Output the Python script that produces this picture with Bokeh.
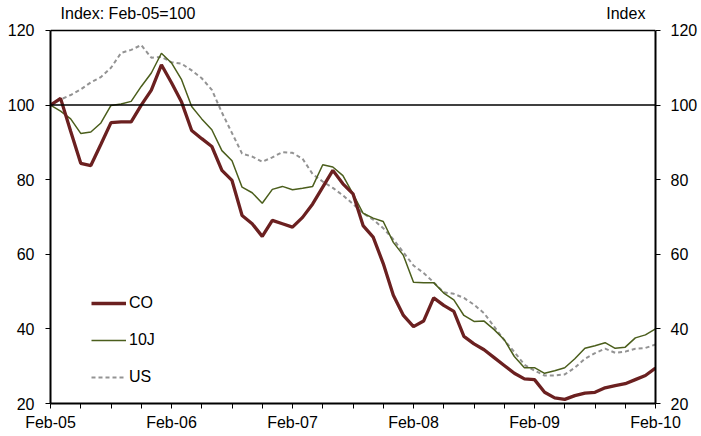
from bokeh.plotting import figure
from bokeh.models import Span, Label, FixedTicker, LinearAxis, Range1d, Legend, LegendItem
from bokeh.embed import file_html
from bokeh.resources import INLINE

# month index 0 = Feb-05 ... 60 = Feb-10
months = list(range(61))
year_ticks = [0, 12, 24, 36, 48, 60]
year_labels = ["Feb-05", "Feb-06", "Feb-07", "Feb-08", "Feb-09", "Feb-10"]
quarter_ticks = [m for m in range(0, 61, 3) if m % 12 != 0]
y_ticks = [20, 40, 60, 80, 100, 120]

co = [100, 101.8, 93, 84.4, 83.8, 89.5, 95.3, 95.5, 95.5, 100, 104, 110.8,
      106, 100.8, 93.2, 91, 88.9, 82.5, 79.8, 70.4, 68.2, 64.8, 69.1, 68.2,
      67.3, 69.9, 73.5, 78, 82.5, 78.9, 76.2, 67.7, 64.6, 57.5, 49, 43.6,
      40.6, 42.1, 48.3, 46.3, 44.7, 38, 36, 34.4, 32.3, 30.2, 28.1, 26.6,
      26.4, 23, 21.5, 21.1, 22.1, 22.8, 23, 24.2, 24.8, 25.3, 26.4, 27.5,
      29.5]
j10 = [100, 98.4, 96.3, 92.4, 92.8, 95.2, 99.9, 100.3, 101, 105, 108.6, 113.9,
       111.3, 106.8, 99.6, 96.3, 93.4, 87.8, 85.1, 78, 76.5, 73.7, 77.4, 78.2,
       77.3, 77.7, 78.2, 84, 83.4, 81.1, 76.2, 71, 69.7, 68.8, 63.2, 59.7,
       52.5, 52.4, 52.4, 49.6, 47.8, 43.6, 42, 42.1, 39.8, 37.1, 32.6, 29.6,
       29.6, 28.1, 28.8, 29.6, 32, 34.8, 35.5, 36.3, 34.8, 35.1, 37.6, 38.4,
       40]
us = [100, 101.5, 102.7, 104.2, 106.1, 107.5, 110, 114, 114.8, 116.1, 112.7, 112.9,
      111.5, 111.1, 109.3, 107.2, 104.1, 98, 92.5, 87, 86.2, 84.8, 86, 87.4,
      87.2, 85.6, 81.5, 79.5, 77.8, 75.8, 73.5, 71, 69.3, 67, 64, 60.5,
      57, 55, 52.5, 49.8, 49.4, 48.3, 46.5, 44.2, 40.6, 37, 33.8, 30.4,
      28.8, 27.5, 27.5, 27.8, 29.6, 32, 33.5, 34.7, 33.6, 33.9, 34.7, 34.9,
      35.8]

FONT = "Liberation Sans"
Y_MIN, Y_MAX = 20, 120
# frame extends above 120 to hold the unit captions (axes are bounded at 20..120)
Y_TOP = 128.04

p = figure(width=700, height=436, output_backend="svg", toolbar_location=None,
           x_range=Range1d(0, 60), y_range=Range1d(Y_MIN, Y_TOP),
           min_border_left=50, min_border_right=42, min_border_top=0, min_border_bottom=33)
p.xgrid.visible = False
p.ygrid.visible = False
p.outline_line_color = None
p.background_fill_color = "white"
p.border_fill_color = "white"

def style_axis(ax):
    ax.axis_line_color = "black"
    ax.axis_line_width = 2
    ax.major_tick_line_color = "black"
    ax.minor_tick_line_color = "black"
    ax.major_tick_line_width = 1
    ax.minor_tick_line_width = 1
    ax.major_tick_in = 0
    ax.major_tick_out = 5
    ax.minor_tick_in = 0
    ax.minor_tick_out = 5
    ax.major_label_text_font = FONT
    ax.major_label_text_font_size = "16px"
    ax.major_label_text_color = "black"

xa = p.xaxis[0]
xa.ticker = FixedTicker(ticks=year_ticks, minor_ticks=quarter_ticks)
xa.major_label_overrides = dict(zip(year_ticks, year_labels))
style_axis(xa)
xa.major_label_standoff = 5

ya = p.yaxis[0]
ya.ticker = FixedTicker(ticks=y_ticks)
ya.bounds = (Y_MIN, Y_MAX)
style_axis(ya)
ya.minor_tick_out = 0
ya.major_label_standoff = 11

ra = LinearAxis(ticker=FixedTicker(ticks=y_ticks), bounds=(Y_MIN, Y_MAX))
style_axis(ra)
ra.minor_tick_out = 0
ra.major_label_standoff = 10
p.add_layout(ra, "right")

p.add_layout(Span(location=Y_MAX, dimension="width", line_color="black", line_width=1.5))
p.add_layout(Span(location=100, dimension="width", line_color="black", line_width=1.5))

r_us = p.line(months, us, line_color="#939393", line_width=2, line_dash="4 3")
r_j = p.line(months, j10, line_color="#4b5e1c", line_width=1.5)
r_co = p.line(months, co, line_color="#6b2020", line_width=3.3)

legend = Legend(items=[LegendItem(label="CO", renderers=[r_co]),
                       LegendItem(label="10J", renderers=[r_j]),
                       LegendItem(label="US", renderers=[r_us])],
                location=(41, 16), padding=0, spacing=17, glyph_width=35,
                glyph_height=20, label_height=20, label_standoff=3,
                border_line_color=None, background_fill_alpha=0,
                label_text_font=FONT, label_text_font_size="16px",
                label_text_color="black", margin=0)
p.add_layout(legend)

p.add_layout(Label(x=1.0, y=124.55, text="Index: Feb-05=100",
                   text_font=FONT, text_font_size="16px", text_color="black",
                   text_baseline="middle", text_align="left"))
p.add_layout(Label(x=59.0, y=124.55, text="Index",
                   text_font=FONT, text_font_size="16px", text_color="black",
                   text_baseline="middle", text_align="right"))

open("out.html", "w").write(file_html(p, INLINE))
